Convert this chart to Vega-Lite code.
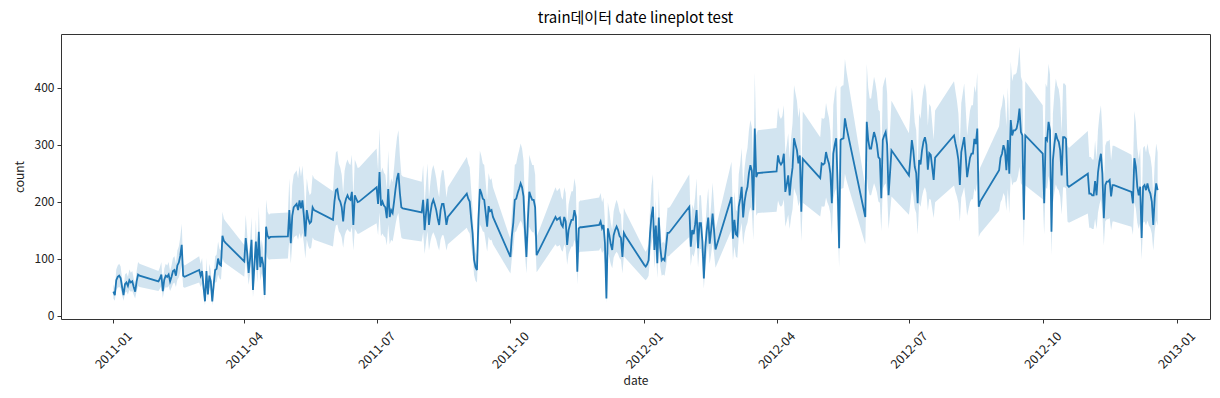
{
"$schema":"https://vega.github.io/schema/vega-lite/v6.json",
"width":1149,"height":285,
"autosize":{"type":"none"},
"padding":{"left":61,"top":34,"right":10,"bottom":79},
"background":"white",
"title":{"text":"train데이터 date lineplot test","fontSize":15,"fontWeight":"normal","font":"Noto Sans CJK KR","color":"#000","offset":8,"anchor":"middle","frame":"group"},
"config":{"view":{"stroke":"#333","strokeWidth":1},"font":"Noto Sans CJK KR"},
"data":{"values":[
{"date":"2011-01-01","count":42,"lo":30,"hi":55},{"date":"2011-01-02","count":36,"lo":26,"hi":47},{"date":"2011-01-03","count":62,"lo":45,"hi":81},{"date":"2011-01-04","count":68,"lo":49,"hi":88},{"date":"2011-01-05","count":70,"lo":50,"hi":91},{"date":"2011-01-06","count":66,"lo":48,"hi":86},{"date":"2011-01-07","count":50,"lo":36,"hi":65},{"date":"2011-01-08","count":36,"lo":26,"hi":47},{"date":"2011-01-09","count":55,"lo":40,"hi":72},{"date":"2011-01-10","count":58,"lo":42,"hi":75},{"date":"2011-01-11","count":52,"lo":37,"hi":68},{"date":"2011-01-12","count":62,"lo":45,"hi":81},{"date":"2011-01-13","count":58,"lo":42,"hi":75},{"date":"2011-01-14","count":60,"lo":43,"hi":78},{"date":"2011-01-15","count":50,"lo":36,"hi":65},{"date":"2011-01-16","count":42,"lo":30,"hi":55},{"date":"2011-01-17","count":60,"lo":43,"hi":78},{"date":"2011-01-18","count":72,"lo":52,"hi":94},{"date":"2011-01-19","count":70,"lo":50,"hi":91},
{"date":"2011-02-01","count":60,"lo":43,"hi":78},{"date":"2011-02-02","count":65,"lo":47,"hi":85},{"date":"2011-02-03","count":72,"lo":52,"hi":94},{"date":"2011-02-04","count":43,"lo":31,"hi":56},{"date":"2011-02-05","count":63,"lo":45,"hi":82},{"date":"2011-02-06","count":70,"lo":50,"hi":91},{"date":"2011-02-07","count":68,"lo":49,"hi":88},{"date":"2011-02-08","count":72,"lo":52,"hi":94},{"date":"2011-02-09","count":60,"lo":43,"hi":78},{"date":"2011-02-10","count":68,"lo":49,"hi":88},{"date":"2011-02-11","count":78,"lo":56,"hi":101},{"date":"2011-02-12","count":80,"lo":58,"hi":104},{"date":"2011-02-13","count":70,"lo":50,"hi":91},{"date":"2011-02-14","count":88,"lo":63,"hi":114},{"date":"2011-02-15","count":93,"lo":67,"hi":121},{"date":"2011-02-16","count":105,"lo":76,"hi":137},{"date":"2011-02-17","count":124,"lo":89,"hi":161},{"date":"2011-02-18","count":70,"lo":50,"hi":91},{"date":"2011-02-19","count":68,"lo":49,"hi":88},
{"date":"2011-03-01","count":80,"lo":58,"hi":104},{"date":"2011-03-02","count":70,"lo":50,"hi":91},{"date":"2011-03-03","count":78,"lo":56,"hi":101},{"date":"2011-03-04","count":50,"lo":36,"hi":65},{"date":"2011-03-05","count":25,"lo":18,"hi":33},{"date":"2011-03-06","count":78,"lo":56,"hi":101},{"date":"2011-03-07","count":37,"lo":27,"hi":48},{"date":"2011-03-08","count":70,"lo":50,"hi":91},{"date":"2011-03-09","count":60,"lo":43,"hi":78},{"date":"2011-03-10","count":25,"lo":18,"hi":33},{"date":"2011-03-11","count":55,"lo":40,"hi":72},{"date":"2011-03-12","count":80,"lo":58,"hi":104},{"date":"2011-03-13","count":82,"lo":59,"hi":107},{"date":"2011-03-14","count":100,"lo":72,"hi":130},{"date":"2011-03-15","count":90,"lo":65,"hi":117},{"date":"2011-03-16","count":88,"lo":63,"hi":114},{"date":"2011-03-17","count":140,"lo":101,"hi":182},{"date":"2011-03-18","count":131,"lo":94,"hi":170},{"date":"2011-03-19","count":128,"lo":92,"hi":166},
{"date":"2011-04-01","count":95,"lo":68,"hi":124},{"date":"2011-04-02","count":136,"lo":98,"hi":177},{"date":"2011-04-03","count":110,"lo":79,"hi":143},{"date":"2011-04-04","count":75,"lo":54,"hi":98},{"date":"2011-04-05","count":100,"lo":72,"hi":130},{"date":"2011-04-06","count":133,"lo":96,"hi":173},{"date":"2011-04-07","count":45,"lo":32,"hi":59},{"date":"2011-04-08","count":90,"lo":65,"hi":117},{"date":"2011-04-09","count":130,"lo":94,"hi":169},{"date":"2011-04-10","count":80,"lo":58,"hi":104},{"date":"2011-04-11","count":147,"lo":106,"hi":191},{"date":"2011-04-12","count":85,"lo":61,"hi":111},{"date":"2011-04-13","count":103,"lo":74,"hi":134},{"date":"2011-04-14","count":90,"lo":65,"hi":117},{"date":"2011-04-15","count":36,"lo":26,"hi":47},{"date":"2011-04-16","count":156,"lo":112,"hi":203},{"date":"2011-04-17","count":140,"lo":101,"hi":182},{"date":"2011-04-18","count":136,"lo":98,"hi":177},{"date":"2011-04-19","count":138,"lo":99,"hi":179},
{"date":"2011-05-01","count":139,"lo":100,"hi":181},{"date":"2011-05-02","count":185,"lo":133,"hi":241},{"date":"2011-05-03","count":127,"lo":91,"hi":165},{"date":"2011-05-04","count":175,"lo":126,"hi":228},{"date":"2011-05-05","count":190,"lo":137,"hi":247},{"date":"2011-05-06","count":193,"lo":139,"hi":251},{"date":"2011-05-07","count":196,"lo":141,"hi":255},{"date":"2011-05-08","count":185,"lo":133,"hi":241},{"date":"2011-05-09","count":202,"lo":145,"hi":263},{"date":"2011-05-10","count":188,"lo":135,"hi":244},{"date":"2011-05-11","count":202,"lo":145,"hi":263},{"date":"2011-05-12","count":175,"lo":126,"hi":228},{"date":"2011-05-13","count":139,"lo":100,"hi":181},{"date":"2011-05-14","count":185,"lo":133,"hi":241},{"date":"2011-05-15","count":170,"lo":122,"hi":221},{"date":"2011-05-16","count":162,"lo":117,"hi":211},{"date":"2011-05-17","count":165,"lo":119,"hi":215},{"date":"2011-05-18","count":190,"lo":137,"hi":247},{"date":"2011-05-19","count":185,"lo":133,"hi":241},
{"date":"2011-06-01","count":168,"lo":121,"hi":218},{"date":"2011-06-02","count":200,"lo":144,"hi":260},{"date":"2011-06-03","count":220,"lo":158,"hi":286},{"date":"2011-06-04","count":222,"lo":160,"hi":289},{"date":"2011-06-05","count":205,"lo":148,"hi":267},{"date":"2011-06-06","count":200,"lo":144,"hi":260},{"date":"2011-06-07","count":190,"lo":137,"hi":247},{"date":"2011-06-08","count":165,"lo":119,"hi":215},{"date":"2011-06-09","count":195,"lo":140,"hi":254},{"date":"2011-06-10","count":205,"lo":148,"hi":267},{"date":"2011-06-11","count":211,"lo":152,"hi":274},{"date":"2011-06-12","count":205,"lo":148,"hi":267},{"date":"2011-06-13","count":203,"lo":146,"hi":264},{"date":"2011-06-14","count":217,"lo":156,"hi":282},{"date":"2011-06-15","count":159,"lo":114,"hi":207},{"date":"2011-06-16","count":211,"lo":152,"hi":274},{"date":"2011-06-17","count":205,"lo":148,"hi":267},{"date":"2011-06-18","count":199,"lo":143,"hi":259},{"date":"2011-06-19","count":200,"lo":144,"hi":260},
{"date":"2011-07-01","count":225,"lo":162,"hi":293},{"date":"2011-07-02","count":196,"lo":141,"hi":255},{"date":"2011-07-03","count":252,"lo":181,"hi":328},{"date":"2011-07-04","count":193,"lo":139,"hi":251},{"date":"2011-07-05","count":200,"lo":144,"hi":260},{"date":"2011-07-06","count":193,"lo":139,"hi":251},{"date":"2011-07-07","count":190,"lo":137,"hi":247},{"date":"2011-07-08","count":171,"lo":123,"hi":222},{"date":"2011-07-09","count":222,"lo":160,"hi":289},{"date":"2011-07-10","count":173,"lo":125,"hi":225},{"date":"2011-07-11","count":185,"lo":133,"hi":241},{"date":"2011-07-12","count":180,"lo":130,"hi":234},{"date":"2011-07-13","count":200,"lo":144,"hi":260},{"date":"2011-07-14","count":222,"lo":160,"hi":289},{"date":"2011-07-15","count":240,"lo":173,"hi":312},{"date":"2011-07-16","count":250,"lo":180,"hi":325},{"date":"2011-07-17","count":215,"lo":155,"hi":280},{"date":"2011-07-18","count":190,"lo":137,"hi":247},{"date":"2011-07-19","count":188,"lo":135,"hi":244},
{"date":"2011-08-01","count":181,"lo":130,"hi":235},{"date":"2011-08-02","count":203,"lo":146,"hi":264},{"date":"2011-08-03","count":150,"lo":108,"hi":195},{"date":"2011-08-04","count":180,"lo":130,"hi":234},{"date":"2011-08-05","count":205,"lo":148,"hi":267},{"date":"2011-08-06","count":159,"lo":114,"hi":207},{"date":"2011-08-07","count":180,"lo":130,"hi":234},{"date":"2011-08-08","count":196,"lo":141,"hi":255},{"date":"2011-08-09","count":203,"lo":146,"hi":264},{"date":"2011-08-10","count":195,"lo":140,"hi":254},{"date":"2011-08-11","count":185,"lo":133,"hi":241},{"date":"2011-08-12","count":170,"lo":122,"hi":221},{"date":"2011-08-13","count":159,"lo":114,"hi":207},{"date":"2011-08-14","count":185,"lo":133,"hi":241},{"date":"2011-08-15","count":196,"lo":141,"hi":255},{"date":"2011-08-16","count":196,"lo":141,"hi":255},{"date":"2011-08-17","count":180,"lo":130,"hi":234},{"date":"2011-08-18","count":159,"lo":114,"hi":207},{"date":"2011-08-19","count":173,"lo":125,"hi":225},
{"date":"2011-09-01","count":214,"lo":154,"hi":278},{"date":"2011-09-02","count":205,"lo":148,"hi":267},{"date":"2011-09-03","count":200,"lo":144,"hi":260},{"date":"2011-09-04","count":170,"lo":122,"hi":221},{"date":"2011-09-05","count":144,"lo":104,"hi":187},{"date":"2011-09-06","count":98,"lo":71,"hi":127},{"date":"2011-09-07","count":85,"lo":61,"hi":111},{"date":"2011-09-08","count":80,"lo":58,"hi":104},{"date":"2011-09-09","count":168,"lo":121,"hi":218},{"date":"2011-09-10","count":222,"lo":160,"hi":289},{"date":"2011-09-11","count":215,"lo":155,"hi":280},{"date":"2011-09-12","count":205,"lo":148,"hi":267},{"date":"2011-09-13","count":203,"lo":146,"hi":264},{"date":"2011-09-14","count":180,"lo":130,"hi":234},{"date":"2011-09-15","count":156,"lo":112,"hi":203},{"date":"2011-09-16","count":192,"lo":138,"hi":250},{"date":"2011-09-17","count":183,"lo":132,"hi":238},{"date":"2011-09-18","count":185,"lo":133,"hi":241},{"date":"2011-09-19","count":173,"lo":125,"hi":225},
{"date":"2011-10-01","count":103,"lo":74,"hi":134},{"date":"2011-10-02","count":140,"lo":101,"hi":182},{"date":"2011-10-03","count":163,"lo":117,"hi":212},{"date":"2011-10-04","count":203,"lo":146,"hi":264},{"date":"2011-10-05","count":205,"lo":148,"hi":267},{"date":"2011-10-06","count":215,"lo":155,"hi":280},{"date":"2011-10-07","count":223,"lo":161,"hi":290},{"date":"2011-10-08","count":232,"lo":167,"hi":302},{"date":"2011-10-09","count":225,"lo":162,"hi":293},{"date":"2011-10-10","count":209,"lo":150,"hi":272},{"date":"2011-10-11","count":150,"lo":108,"hi":195},{"date":"2011-10-12","count":103,"lo":74,"hi":134},{"date":"2011-10-13","count":168,"lo":121,"hi":218},{"date":"2011-10-14","count":217,"lo":156,"hi":282},{"date":"2011-10-15","count":209,"lo":150,"hi":272},{"date":"2011-10-16","count":203,"lo":146,"hi":264},{"date":"2011-10-17","count":203,"lo":146,"hi":264},{"date":"2011-10-18","count":190,"lo":137,"hi":247},{"date":"2011-10-19","count":106,"lo":76,"hi":138},
{"date":"2011-11-01","count":173,"lo":125,"hi":225},{"date":"2011-11-02","count":168,"lo":121,"hi":218},{"date":"2011-11-03","count":170,"lo":122,"hi":221},{"date":"2011-11-04","count":172,"lo":124,"hi":224},{"date":"2011-11-05","count":160,"lo":115,"hi":208},{"date":"2011-11-06","count":156,"lo":112,"hi":203},{"date":"2011-11-07","count":173,"lo":125,"hi":225},{"date":"2011-11-08","count":165,"lo":119,"hi":215},{"date":"2011-11-09","count":124,"lo":89,"hi":161},{"date":"2011-11-10","count":150,"lo":108,"hi":195},{"date":"2011-11-11","count":160,"lo":115,"hi":208},{"date":"2011-11-12","count":168,"lo":121,"hi":218},{"date":"2011-11-13","count":168,"lo":121,"hi":218},{"date":"2011-11-14","count":185,"lo":133,"hi":241},{"date":"2011-11-15","count":173,"lo":125,"hi":225},{"date":"2011-11-16","count":77,"lo":55,"hi":100},{"date":"2011-11-17","count":153,"lo":110,"hi":199},{"date":"2011-11-18","count":155,"lo":112,"hi":202},{"date":"2011-11-19","count":155,"lo":112,"hi":202},
{"date":"2011-12-01","count":159,"lo":114,"hi":207},{"date":"2011-12-02","count":165,"lo":119,"hi":215},{"date":"2011-12-03","count":153,"lo":110,"hi":199},{"date":"2011-12-04","count":159,"lo":114,"hi":207},{"date":"2011-12-05","count":127,"lo":91,"hi":165},{"date":"2011-12-06","count":30,"lo":22,"hi":39},{"date":"2011-12-07","count":153,"lo":110,"hi":199},{"date":"2011-12-08","count":141,"lo":102,"hi":183},{"date":"2011-12-09","count":125,"lo":90,"hi":163},{"date":"2011-12-10","count":115,"lo":83,"hi":150},{"date":"2011-12-11","count":141,"lo":102,"hi":183},{"date":"2011-12-12","count":150,"lo":108,"hi":195},{"date":"2011-12-13","count":156,"lo":112,"hi":203},{"date":"2011-12-14","count":150,"lo":108,"hi":195},{"date":"2011-12-15","count":140,"lo":101,"hi":182},{"date":"2011-12-16","count":136,"lo":98,"hi":177},{"date":"2011-12-17","count":103,"lo":74,"hi":134},{"date":"2011-12-18","count":145,"lo":104,"hi":189},{"date":"2011-12-19","count":140,"lo":101,"hi":182},
{"date":"2012-01-01","count":89,"lo":64,"hi":116},{"date":"2012-01-02","count":86,"lo":62,"hi":112},{"date":"2012-01-03","count":90,"lo":65,"hi":117},{"date":"2012-01-04","count":97,"lo":70,"hi":126},{"date":"2012-01-05","count":144,"lo":104,"hi":187},{"date":"2012-01-06","count":175,"lo":126,"hi":228},{"date":"2012-01-07","count":191,"lo":138,"hi":248},{"date":"2012-01-08","count":115,"lo":83,"hi":150},{"date":"2012-01-09","count":158,"lo":114,"hi":205},{"date":"2012-01-10","count":92,"lo":66,"hi":120},{"date":"2012-01-11","count":172,"lo":124,"hi":224},{"date":"2012-01-12","count":120,"lo":86,"hi":156},{"date":"2012-01-13","count":97,"lo":70,"hi":126},{"date":"2012-01-14","count":100,"lo":72,"hi":130},{"date":"2012-01-15","count":97,"lo":70,"hi":126},{"date":"2012-01-16","count":120,"lo":86,"hi":156},{"date":"2012-01-17","count":145,"lo":104,"hi":189},{"date":"2012-01-18","count":145,"lo":104,"hi":189},{"date":"2012-01-19","count":148,"lo":107,"hi":192},
{"date":"2012-02-01","count":191,"lo":138,"hi":248},{"date":"2012-02-02","count":121,"lo":87,"hi":157},{"date":"2012-02-03","count":150,"lo":108,"hi":195},{"date":"2012-02-04","count":143,"lo":103,"hi":186},{"date":"2012-02-05","count":160,"lo":115,"hi":208},{"date":"2012-02-06","count":185,"lo":133,"hi":241},{"date":"2012-02-07","count":118,"lo":85,"hi":153},{"date":"2012-02-08","count":162,"lo":117,"hi":211},{"date":"2012-02-09","count":162,"lo":117,"hi":211},{"date":"2012-02-10","count":130,"lo":94,"hi":169},{"date":"2012-02-11","count":65,"lo":47,"hi":85},{"date":"2012-02-12","count":120,"lo":86,"hi":156},{"date":"2012-02-13","count":150,"lo":108,"hi":195},{"date":"2012-02-14","count":172,"lo":124,"hi":224},{"date":"2012-02-15","count":126,"lo":91,"hi":164},{"date":"2012-02-16","count":150,"lo":108,"hi":195},{"date":"2012-02-17","count":179,"lo":129,"hi":233},{"date":"2012-02-18","count":150,"lo":108,"hi":195},{"date":"2012-02-19","count":116,"lo":84,"hi":151},
{"date":"2012-03-01","count":208,"lo":150,"hi":270},{"date":"2012-03-02","count":135,"lo":97,"hi":176},{"date":"2012-03-03","count":168,"lo":121,"hi":218},{"date":"2012-03-04","count":143,"lo":103,"hi":186},{"date":"2012-03-05","count":140,"lo":101,"hi":182},{"date":"2012-03-06","count":191,"lo":138,"hi":248},{"date":"2012-03-07","count":205,"lo":148,"hi":267},{"date":"2012-03-08","count":226,"lo":163,"hi":294},{"date":"2012-03-09","count":172,"lo":124,"hi":224},{"date":"2012-03-10","count":200,"lo":144,"hi":260},{"date":"2012-03-11","count":216,"lo":156,"hi":281},{"date":"2012-03-12","count":226,"lo":163,"hi":294},{"date":"2012-03-13","count":250,"lo":180,"hi":325},{"date":"2012-03-14","count":264,"lo":190,"hi":343},{"date":"2012-03-15","count":254,"lo":183,"hi":330},{"date":"2012-03-16","count":185,"lo":133,"hi":241},{"date":"2012-03-17","count":328,"lo":236,"hi":426},{"date":"2012-03-18","count":243,"lo":175,"hi":316},{"date":"2012-03-19","count":250,"lo":180,"hi":325},
{"date":"2012-04-01","count":253,"lo":182,"hi":329},{"date":"2012-04-02","count":281,"lo":202,"hi":365},{"date":"2012-04-03","count":269,"lo":194,"hi":350},{"date":"2012-04-04","count":265,"lo":191,"hi":345},{"date":"2012-04-05","count":269,"lo":194,"hi":350},{"date":"2012-04-06","count":284,"lo":204,"hi":369},{"date":"2012-04-07","count":217,"lo":156,"hi":282},{"date":"2012-04-08","count":230,"lo":166,"hi":299},{"date":"2012-04-09","count":246,"lo":177,"hi":320},{"date":"2012-04-10","count":211,"lo":152,"hi":274},{"date":"2012-04-11","count":240,"lo":173,"hi":312},{"date":"2012-04-12","count":260,"lo":187,"hi":338},{"date":"2012-04-13","count":311,"lo":224,"hi":404},{"date":"2012-04-14","count":300,"lo":216,"hi":390},{"date":"2012-04-15","count":290,"lo":209,"hi":377},{"date":"2012-04-16","count":267,"lo":192,"hi":347},{"date":"2012-04-17","count":281,"lo":202,"hi":365},{"date":"2012-04-18","count":182,"lo":131,"hi":237},{"date":"2012-04-19","count":275,"lo":198,"hi":358},
{"date":"2012-05-01","count":241,"lo":174,"hi":313},{"date":"2012-05-02","count":267,"lo":192,"hi":347},{"date":"2012-05-03","count":265,"lo":191,"hi":345},{"date":"2012-05-04","count":267,"lo":192,"hi":347},{"date":"2012-05-05","count":287,"lo":207,"hi":373},{"date":"2012-05-06","count":275,"lo":198,"hi":358},{"date":"2012-05-07","count":267,"lo":192,"hi":347},{"date":"2012-05-08","count":249,"lo":179,"hi":324},{"date":"2012-05-09","count":197,"lo":142,"hi":256},{"date":"2012-05-10","count":284,"lo":204,"hi":369},{"date":"2012-05-11","count":300,"lo":216,"hi":390},{"date":"2012-05-12","count":311,"lo":224,"hi":404},{"date":"2012-05-13","count":226,"lo":163,"hi":294},{"date":"2012-05-14","count":118,"lo":85,"hi":153},{"date":"2012-05-15","count":308,"lo":222,"hi":400},{"date":"2012-05-16","count":310,"lo":223,"hi":403},{"date":"2012-05-17","count":311,"lo":224,"hi":404},{"date":"2012-05-18","count":346,"lo":249,"hi":450},{"date":"2012-05-19","count":331,"lo":238,"hi":430},
{"date":"2012-06-01","count":173,"lo":125,"hi":225},{"date":"2012-06-02","count":340,"lo":245,"hi":442},{"date":"2012-06-03","count":308,"lo":222,"hi":400},{"date":"2012-06-04","count":293,"lo":211,"hi":381},{"date":"2012-06-05","count":293,"lo":211,"hi":381},{"date":"2012-06-06","count":308,"lo":222,"hi":400},{"date":"2012-06-07","count":322,"lo":232,"hi":419},{"date":"2012-06-08","count":313,"lo":225,"hi":407},{"date":"2012-06-09","count":300,"lo":216,"hi":390},{"date":"2012-06-10","count":278,"lo":200,"hi":361},{"date":"2012-06-11","count":275,"lo":198,"hi":358},{"date":"2012-06-12","count":206,"lo":148,"hi":268},{"date":"2012-06-13","count":308,"lo":222,"hi":400},{"date":"2012-06-14","count":316,"lo":228,"hi":411},{"date":"2012-06-15","count":322,"lo":232,"hi":419},{"date":"2012-06-16","count":300,"lo":216,"hi":390},{"date":"2012-06-17","count":211,"lo":152,"hi":274},{"date":"2012-06-18","count":250,"lo":180,"hi":325},{"date":"2012-06-19","count":290,"lo":209,"hi":377},
{"date":"2012-07-01","count":246,"lo":177,"hi":320},{"date":"2012-07-02","count":275,"lo":198,"hi":358},{"date":"2012-07-03","count":308,"lo":222,"hi":400},{"date":"2012-07-04","count":290,"lo":209,"hi":377},{"date":"2012-07-05","count":261,"lo":188,"hi":339},{"date":"2012-07-06","count":250,"lo":180,"hi":325},{"date":"2012-07-07","count":197,"lo":142,"hi":256},{"date":"2012-07-08","count":273,"lo":197,"hi":355},{"date":"2012-07-09","count":265,"lo":191,"hi":345},{"date":"2012-07-10","count":290,"lo":209,"hi":377},{"date":"2012-07-11","count":305,"lo":220,"hi":397},{"date":"2012-07-12","count":313,"lo":225,"hi":407},{"date":"2012-07-13","count":300,"lo":216,"hi":390},{"date":"2012-07-14","count":256,"lo":184,"hi":333},{"date":"2012-07-15","count":285,"lo":205,"hi":371},{"date":"2012-07-16","count":282,"lo":203,"hi":367},{"date":"2012-07-17","count":260,"lo":187,"hi":338},{"date":"2012-07-18","count":238,"lo":171,"hi":309},{"date":"2012-07-19","count":277,"lo":199,"hi":360},
{"date":"2012-08-01","count":316,"lo":228,"hi":411},{"date":"2012-08-02","count":302,"lo":217,"hi":393},{"date":"2012-08-03","count":290,"lo":209,"hi":377},{"date":"2012-08-04","count":273,"lo":197,"hi":355},{"date":"2012-08-05","count":229,"lo":165,"hi":298},{"date":"2012-08-06","count":287,"lo":207,"hi":373},{"date":"2012-08-07","count":300,"lo":216,"hi":390},{"date":"2012-08-08","count":313,"lo":225,"hi":407},{"date":"2012-08-09","count":281,"lo":202,"hi":365},{"date":"2012-08-10","count":243,"lo":175,"hi":316},{"date":"2012-08-11","count":260,"lo":187,"hi":338},{"date":"2012-08-12","count":277,"lo":199,"hi":360},{"date":"2012-08-13","count":284,"lo":204,"hi":369},{"date":"2012-08-14","count":284,"lo":204,"hi":369},{"date":"2012-08-15","count":310,"lo":223,"hi":403},{"date":"2012-08-16","count":301,"lo":217,"hi":391},{"date":"2012-08-17","count":328,"lo":236,"hi":426},{"date":"2012-08-18","count":191,"lo":138,"hi":248},{"date":"2012-08-19","count":200,"lo":144,"hi":260},
{"date":"2012-09-01","count":255,"lo":184,"hi":332},{"date":"2012-09-02","count":277,"lo":199,"hi":360},{"date":"2012-09-03","count":284,"lo":204,"hi":369},{"date":"2012-09-04","count":299,"lo":215,"hi":389},{"date":"2012-09-05","count":290,"lo":209,"hi":377},{"date":"2012-09-06","count":255,"lo":184,"hi":332},{"date":"2012-09-07","count":308,"lo":222,"hi":400},{"date":"2012-09-08","count":249,"lo":179,"hi":324},{"date":"2012-09-09","count":343,"lo":247,"hi":446},{"date":"2012-09-10","count":316,"lo":228,"hi":411},{"date":"2012-09-11","count":325,"lo":234,"hi":423},{"date":"2012-09-12","count":325,"lo":234,"hi":423},{"date":"2012-09-13","count":328,"lo":236,"hi":426},{"date":"2012-09-14","count":340,"lo":245,"hi":442},{"date":"2012-09-15","count":363,"lo":261,"hi":472},{"date":"2012-09-16","count":322,"lo":232,"hi":419},{"date":"2012-09-17","count":316,"lo":228,"hi":411},{"date":"2012-09-18","count":168,"lo":121,"hi":218},{"date":"2012-09-19","count":316,"lo":228,"hi":411},
{"date":"2012-10-01","count":284,"lo":204,"hi":369},{"date":"2012-10-02","count":197,"lo":142,"hi":256},{"date":"2012-10-03","count":313,"lo":225,"hi":407},{"date":"2012-10-04","count":308,"lo":222,"hi":400},{"date":"2012-10-05","count":340,"lo":245,"hi":442},{"date":"2012-10-06","count":325,"lo":234,"hi":423},{"date":"2012-10-07","count":147,"lo":106,"hi":191},{"date":"2012-10-08","count":273,"lo":197,"hi":355},{"date":"2012-10-09","count":300,"lo":216,"hi":390},{"date":"2012-10-10","count":320,"lo":230,"hi":416},{"date":"2012-10-11","count":310,"lo":223,"hi":403},{"date":"2012-10-12","count":305,"lo":220,"hi":397},{"date":"2012-10-13","count":290,"lo":209,"hi":377},{"date":"2012-10-14","count":246,"lo":177,"hi":320},{"date":"2012-10-15","count":313,"lo":225,"hi":407},{"date":"2012-10-16","count":313,"lo":225,"hi":407},{"date":"2012-10-17","count":310,"lo":223,"hi":403},{"date":"2012-10-18","count":229,"lo":165,"hi":298},{"date":"2012-10-19","count":226,"lo":163,"hi":294},
{"date":"2012-11-01","count":249,"lo":179,"hi":324},{"date":"2012-11-02","count":214,"lo":154,"hi":278},{"date":"2012-11-03","count":214,"lo":154,"hi":278},{"date":"2012-11-04","count":211,"lo":152,"hi":274},{"date":"2012-11-05","count":211,"lo":152,"hi":274},{"date":"2012-11-06","count":236,"lo":170,"hi":307},{"date":"2012-11-07","count":211,"lo":152,"hi":274},{"date":"2012-11-08","count":251,"lo":181,"hi":326},{"date":"2012-11-09","count":271,"lo":195,"hi":352},{"date":"2012-11-10","count":284,"lo":204,"hi":369},{"date":"2012-11-11","count":249,"lo":179,"hi":324},{"date":"2012-11-12","count":171,"lo":123,"hi":222},{"date":"2012-11-13","count":229,"lo":165,"hi":298},{"date":"2012-11-14","count":235,"lo":169,"hi":306},{"date":"2012-11-15","count":235,"lo":169,"hi":306},{"date":"2012-11-16","count":238,"lo":171,"hi":309},{"date":"2012-11-17","count":209,"lo":150,"hi":272},{"date":"2012-11-18","count":229,"lo":165,"hi":298},{"date":"2012-11-19","count":229,"lo":165,"hi":298},
{"date":"2012-12-01","count":217,"lo":156,"hi":282},{"date":"2012-12-02","count":197,"lo":142,"hi":256},{"date":"2012-12-03","count":276,"lo":199,"hi":359},{"date":"2012-12-04","count":261,"lo":188,"hi":339},{"date":"2012-12-05","count":226,"lo":163,"hi":294},{"date":"2012-12-06","count":211,"lo":152,"hi":274},{"date":"2012-12-07","count":226,"lo":163,"hi":294},{"date":"2012-12-08","count":136,"lo":98,"hi":177},{"date":"2012-12-09","count":226,"lo":163,"hi":294},{"date":"2012-12-10","count":229,"lo":165,"hi":298},{"date":"2012-12-11","count":220,"lo":158,"hi":286},{"date":"2012-12-12","count":232,"lo":167,"hi":302},{"date":"2012-12-13","count":220,"lo":158,"hi":286},{"date":"2012-12-14","count":214,"lo":154,"hi":278},{"date":"2012-12-15","count":200,"lo":144,"hi":260},{"date":"2012-12-16","count":159,"lo":114,"hi":207},{"date":"2012-12-17","count":207,"lo":149,"hi":269},{"date":"2012-12-18","count":232,"lo":167,"hi":302},{"date":"2012-12-19","count":220,"lo":158,"hi":286}
]},
"encoding":{
"x":{"field":"date","type":"temporal",
"scale":{"type":"utc","domain":[{"year":2010,"month":11,"date":26,"utc":true},{"year":2013,"month":1,"date":24,"utc":true}]},
"axis":{"title":"date","format":"%Y-%m","tickCount":{"interval":"month","step":3},"labelAngle":-45,"labelAlign":"center","labelBaseline":"middle","labelPadding":27,"labelOverlap":false,"labelFlush":false,"grid":false,"domain":false,"tickSize":4,"tickColor":"#333","labelFontSize":12.5,"labelColor":"#222","titleFontSize":12,"titleFontWeight":"normal","titleColor":"#222","titlePadding":5}}
},
"layer":[
{"mark":{"type":"area","color":"#1f77b4","opacity":0.2},
"encoding":{"y":{"field":"lo","type":"quantitative","scale":{"domain":[-6,494],"nice":false,"zero":false},
"axis":{"title":"count","values":[0,100,200,300,400],"grid":false,"domain":false,"tickSize":4,"tickColor":"#333","labelFontSize":12,"labelColor":"#222","labelPadding":3,"titleFontSize":12,"titleFontWeight":"normal","titleColor":"#222","titlePadding":8}},
"y2":{"field":"hi"}}},
{"mark":{"type":"line","color":"#1f77b4","strokeWidth":1.8},
"encoding":{"y":{"field":"count","type":"quantitative"}}}
]
}
